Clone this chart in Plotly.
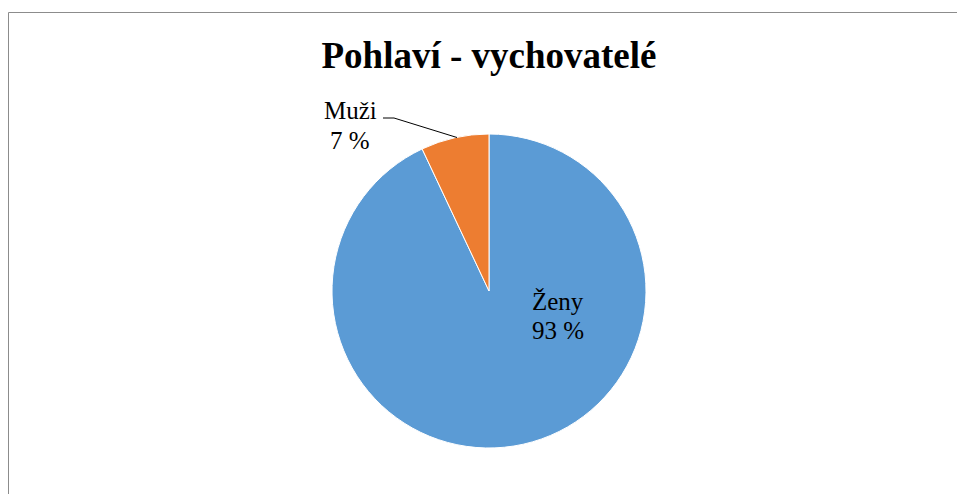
import plotly.graph_objects as go

categories = ["Ženy", "Muži"]
values = [93, 7]
colors = ["#5B9BD5", "#ED7D31"]
title_text = "Pohlaví - vychovatelé"

W, H = 957, 494

def px(x):
    return x / W

def py(y):
    return 1 - y / H

total = sum(values)
pct = [f"{round(v / total * 100)} %" for v in values]

fig = go.Figure(go.Pie(
    labels=categories,
    values=values,
    sort=False,
    direction="clockwise",
    rotation=0,
    marker=dict(colors=colors, line=dict(color="white", width=1)),
    textinfo="none",
    hoverinfo="label+percent",
    showlegend=False,
    domain=dict(x=[px(332), px(646)], y=[py(448), py(134)]),
))

serif = "Liberation Serif, Times New Roman, serif"
lab_font = dict(family=serif, size=25, color="black")

# Data labels (name line and percent line)
label_pos = {
    0: ((558, 301), (558, 330)),
    1: ((350, 110), (350, 140)),
}
for i, ((xn, yn), (xp, yp)) in label_pos.items():
    fig.add_annotation(x=px(xn), y=py(yn), xref="paper", yref="paper",
                       text=categories[i], showarrow=False, font=lab_font,
                       xanchor="center", yanchor="middle")
    fig.add_annotation(x=px(xp), y=py(yp), xref="paper", yref="paper",
                       text=pct[i], showarrow=False, font=lab_font,
                       xanchor="center", yanchor="middle")

# Leader line for Muži
fig.add_shape(type="path", xref="paper", yref="paper",
              path=f"M {px(383)} {py(118)} L {px(394)} {py(118)} L {px(457)} {py(137.5)}",
              line=dict(color="black", width=1))

# Chart border
fig.add_shape(type="rect", xref="paper", yref="paper",
              x0=px(8.5), x1=1.05, y0=-0.05, y1=py(12.5),
              line=dict(color="#8C8C8C", width=1), fillcolor="rgba(0,0,0,0)")

fig.update_layout(
    width=W, height=H,
    margin=dict(l=0, r=0, t=0, b=0),
    paper_bgcolor="white",
    plot_bgcolor="white",
    title=dict(text=f"<b>{title_text}</b>", x=px(489), y=py(55),
               xanchor="center", yanchor="middle", xref="paper", yref="container",
               font=dict(family=serif, size=37, color="black")),
)

fig.write_html("out.html",
               config={"displayModeBar": False},
               post_script="document.body.style.margin='0';document.body.style.overflow='hidden';")
